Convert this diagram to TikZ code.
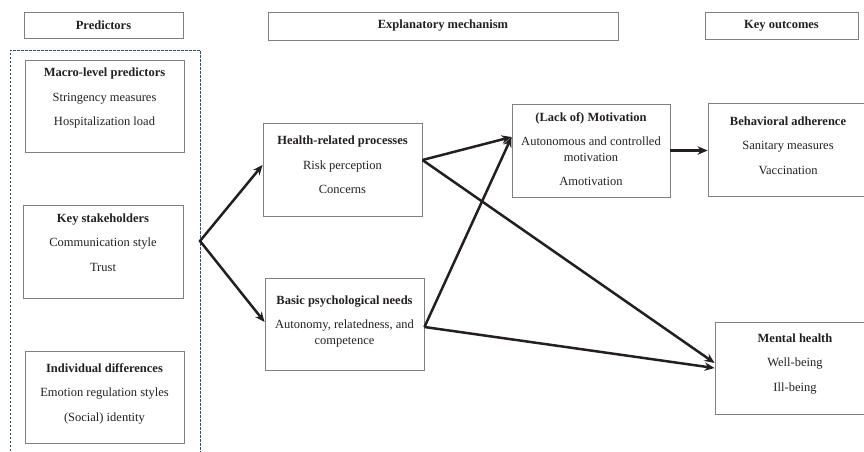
\documentclass[tikz,border=0pt]{standalone}
\usepackage{fontspec}
\setmainfont{Liberation Serif}
\usetikzlibrary{arrows.meta,positioning}

\definecolor{framegray}{RGB}{128,128,128}
\definecolor{groupblue}{RGB}{46,74,122}
\definecolor{inkblack}{RGB}{35,31,32}

\begin{document}
\begin{tikzpicture}[
  x=1pt, y=-1pt,
  font=\fontsize{12.5}{15.5}\selectfont,
  header/.style = {draw=framegray, line width=0.9pt, inner sep=0pt,
                   font=\fontsize{12.5}{15.5}\selectfont\bfseries, text=inkblack},
  box/.style    = {draw=framegray, line width=0.9pt, inner sep=0pt,
                   minimum width=159pt, minimum height=92pt},
  txt/.style    = {align=center, inner sep=0pt, anchor=north, text=inkblack},
  group/.style  = {draw=groupblue, line width=0.8pt,
                   dash pattern=on 2.5pt off 1.5pt},
  link/.style   = {draw=inkblack, line width=2.5pt,
                   -{Stealth[length=10pt,width=8.5pt]}},
]
  \useasboundingbox (0,0) rectangle (864,451);
  \clip (0,0) rectangle (864,451);

  % column headers
  \node[header, minimum width=159pt, minimum height=26pt] (predhead) at (103.5,25)   {Predictors};
  \node[header, minimum width=350pt, minimum height=28pt] (explhead) at (443,26)     {Explanatory mechanism};
  \node[header, minimum width=153pt, minimum height=27pt] (keyhead)  at (781.5,25.5) {Key outcomes};

  % the predictors sit in one dashed group, open at the bottom
  \draw[group] (10,455) |- (200,50) -- (200,455);

  \node[box] (macro) at (104.5,106) {};
  \node[txt] (macrotxt) at ([yshift=-8.5pt]macro.north)
    {\textbf{Macro-level predictors}\\[9pt] Stringency measures\\[9pt] Hospitalization load};

  \node[box, minimum width=160pt, minimum height=93pt] (stake) at (103,251.5) {};
  \node[txt] (staketxt) at ([yshift=-8.8pt]stake.north)
    {\textbf{Key stakeholders}\\[9pt] Communication style\\[9pt] Trust};

  \node[box] (indiv) at (104.5,397) {};
  \node[txt] (indivtxt) at ([yshift=-12.8pt]indiv.north)
    {\textbf{Individual differences}\\[9pt] Emotion regulation styles\\[9pt] (Social) identity};

  % explanatory mechanism
  \node[box, minimum height=93pt] (health) at (342.5,169.5) {};
  \node[txt] (healthtxt) at ([yshift=-13.5pt]health.north)
    {\textbf{Health-related processes}\\[9pt] Risk perception\\[9pt] Concerns};

  \node[box] (basic) at (344.5,324) {};
  \node[txt] (basictxt) at ([yshift=-17.8pt]basic.north)
    {\textbf{Basic psychological needs}\\[9pt] Autonomy, relatedness, and\\ competence};

  \node[box, minimum width=158pt, minimum height=93pt] (motiv) at (591,150.5) {};
  \node[txt] (motivtxt) at ([yshift=-8.5pt]motiv.north)
    {\textbf{(Lack of) Motivation}\\[9pt] Autonomous and controlled\\ motivation\\[9pt] Amotivation};

  % key outcomes
  \node[box, minimum width=160pt, minimum height=93pt] (behav) at (788,149.5) {};
  \node[txt] (behavtxt) at ([yshift=-13.8pt]behav.north)
    {\textbf{Behavioral adherence}\\[9pt] Sanitary measures\\[9pt] Vaccination};

  \node[box, minimum width=160pt] (mental) at (795,368) {};
  \node[txt] (mentaltxt) at ([yshift=-11.8pt]mental.north)
    {\textbf{Mental health}\\[9pt] Well-being\\[9pt] Ill-being};

  % paths
  \coordinate (split) at (200,241);
  \draw[link, {Stealth[length=10pt,width=8.5pt]}-{Stealth[length=10pt,width=8.5pt]}]
    ([yshift=4.5pt]health.west) -- (split) -- ([yshift=2pt]basic.west);
  \draw[link] ([yshift=9.5pt]health.east) -- ([yshift=13.5pt]motiv.west);
  \draw[link] ([yshift=-3pt]basic.east)   -- ([yshift=13.5pt]motiv.west);
  \draw[link] ([yshift=9.5pt]health.east) -- ([yshift=5pt]mental.west);
  \draw[link] ([yshift=-3pt]basic.east)   -- (mental.west);
  \draw[link] (motiv.east) -- (behav.west |- motiv.east);
\end{tikzpicture}
\end{document}
